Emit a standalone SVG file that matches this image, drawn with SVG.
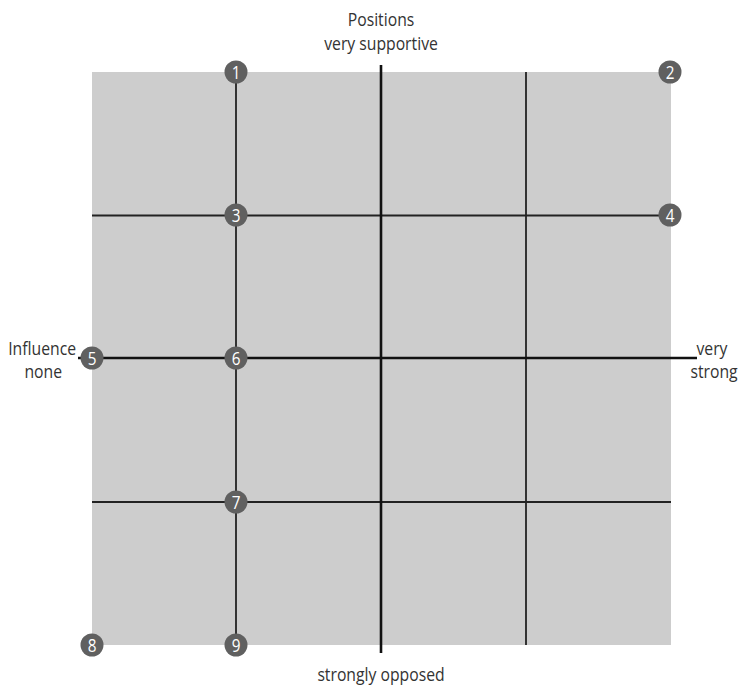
<svg xmlns="http://www.w3.org/2000/svg" width="740" height="689" viewBox="0 0 740 689">
<style>
.lbl{font-family:"Open Sans","Liberation Sans",sans-serif;font-size:17.5px;fill:#333;}
.thin{stroke:#222;stroke-width:1.8;fill:none;}
.thick{stroke:#111;stroke-width:2.6;fill:none;}
.node circle{fill:#606060;}
.node text{font-family:"Open Sans","Liberation Sans",sans-serif;font-size:18px;fill:#fff;text-anchor:middle;}
</style>
<rect x="92" y="72" width="579" height="573" fill="#cdcdcd"/>
<g id="connectors">
<line class="thin" x1="236" y1="72" x2="236" y2="645"/>
<line class="thin" x1="526" y1="72" x2="526" y2="645"/>
<line class="thin" x1="92" y1="215.5" x2="671" y2="215.5"/>
<line class="thin" x1="92" y1="502" x2="671" y2="502"/>
<line class="thick" x1="381" y1="65" x2="381" y2="653"/>
<line class="thick" x1="78" y1="358" x2="697" y2="358"/>
</g>
<g id="labels">
<text class="lbl" transform="translate(381,26) scale(0.9,1)" text-anchor="middle">Positions</text>
<text class="lbl" transform="translate(381,50) scale(0.9,1)" text-anchor="middle">very supportive</text>
<text class="lbl" transform="translate(76,355) scale(0.9,1)" text-anchor="end">Influence</text>
<text class="lbl" transform="translate(62,378) scale(0.9,1)" text-anchor="end">none</text>
<text class="lbl" transform="translate(712,355) scale(0.9,1)" text-anchor="middle">very</text>
<text class="lbl" transform="translate(714,378) scale(0.9,1)" text-anchor="middle">strong</text>
<text class="lbl" transform="translate(381,681) scale(0.9,1)" text-anchor="middle">strongly opposed</text>
</g>
<g id="n1" class="node"><circle cx="236" cy="72" r="11.5"/><text transform="translate(236,78.5) scale(0.85,1)">1</text></g>
<g id="n2" class="node"><circle cx="670" cy="72" r="11.5"/><text transform="translate(670,78.5) scale(0.85,1)">2</text></g>
<g id="n3" class="node"><circle cx="236" cy="215" r="11.5"/><text transform="translate(236,221.5) scale(0.85,1)">3</text></g>
<g id="n4" class="node"><circle cx="670" cy="215" r="11.5"/><text transform="translate(670,221.5) scale(0.85,1)">4</text></g>
<g id="n5" class="node"><circle cx="92" cy="358" r="11.5"/><text transform="translate(92,364.5) scale(0.85,1)">5</text></g>
<g id="n6" class="node"><circle cx="236" cy="358" r="11.5"/><text transform="translate(236,364.5) scale(0.85,1)">6</text></g>
<g id="n7" class="node"><circle cx="236" cy="502" r="11.5"/><text transform="translate(236,508.5) scale(0.85,1)">7</text></g>
<g id="n8" class="node"><circle cx="92" cy="645" r="11.5"/><text transform="translate(92,651.5) scale(0.85,1)">8</text></g>
<g id="n9" class="node"><circle cx="236" cy="645" r="11.5"/><text transform="translate(236,651.5) scale(0.85,1)">9</text></g>
</svg>
